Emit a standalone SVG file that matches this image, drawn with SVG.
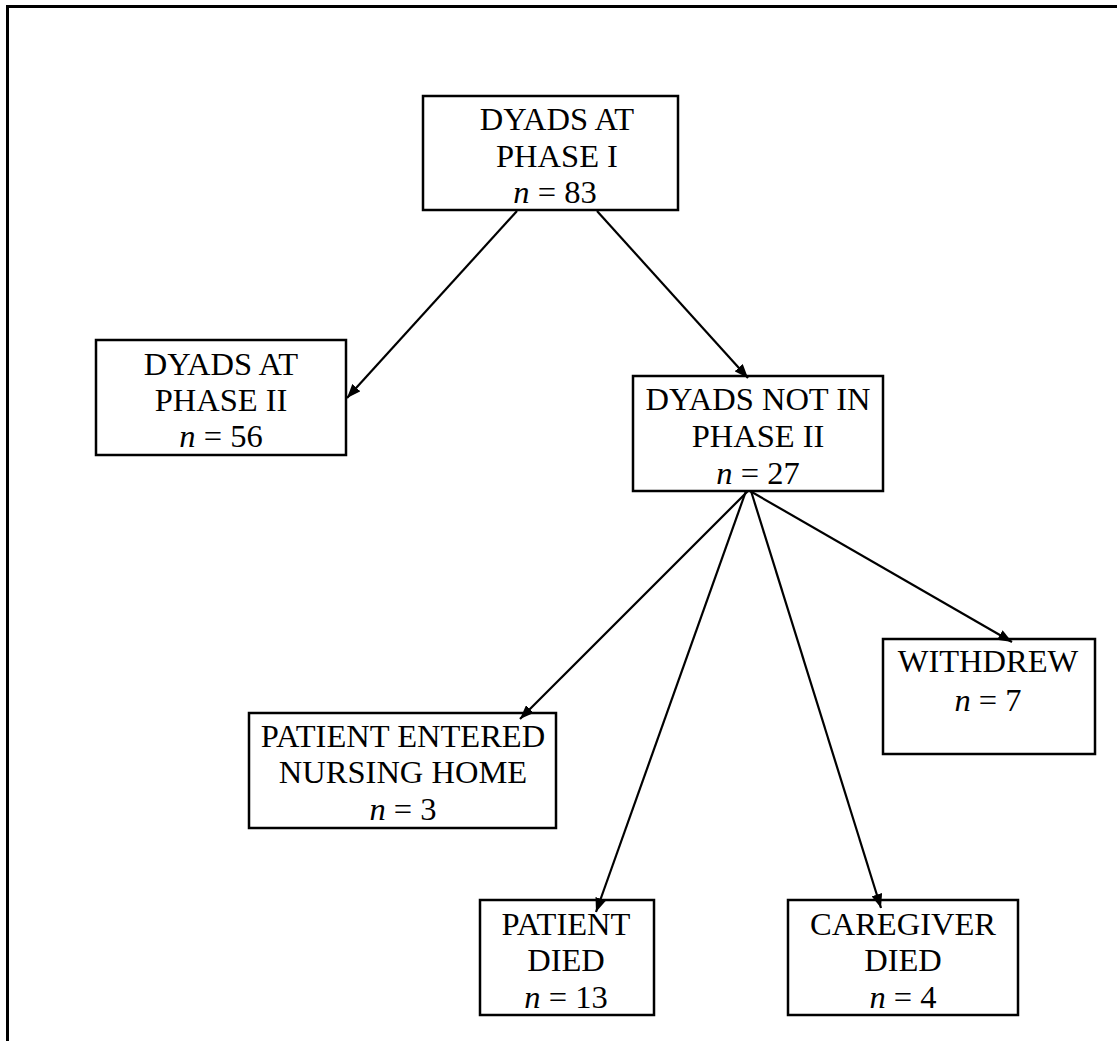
<svg xmlns="http://www.w3.org/2000/svg" width="1117" height="1041" viewBox="0 0 1117 1041">
<style>
.box{fill:#fff;stroke:#000;stroke-width:2.5}
.t{font-family:"Liberation Serif","Times New Roman",serif;font-size:32.5px;fill:#000;text-anchor:middle}
.i{font-style:italic}
.c{stroke:#000;stroke-width:2.2;fill:none;marker-end:url(#ah)}
.frame{stroke:#000;stroke-width:3;fill:none}
</style>
<defs>
<marker id="ah" markerUnits="userSpaceOnUse" markerWidth="14" markerHeight="11" refX="14" refY="5.5" orient="auto">
<path d="M0,0 L14,5.5 L0,11 z" fill="#000"/>
</marker>
</defs>
<rect width="1117" height="1041" fill="#fff"/>
<path class="frame" d="M7.5,1041 L7.5,6.5 L1117,6.5"/>
<g id="n_phase1">
<rect class="box" x="423" y="96" width="255" height="114"/>
<text class="t" x="557" y="130">DYADS AT</text>
<text class="t" x="557" y="167">PHASE I</text>
<text class="t" x="555" y="203"><tspan class="i">n</tspan> = 83</text>
</g>
<g id="n_phase2">
<rect class="box" x="96" y="340" width="250" height="115"/>
<text class="t" x="221" y="375">DYADS AT</text>
<text class="t" x="221" y="411">PHASE II</text>
<text class="t" x="221" y="447"><tspan class="i">n</tspan> = 56</text>
</g>
<g id="n_notphase2">
<rect class="box" x="633" y="376" width="250" height="115"/>
<text class="t" x="758" y="410">DYADS NOT IN</text>
<text class="t" x="758" y="447">PHASE II</text>
<text class="t" x="758" y="484"><tspan class="i">n</tspan> = 27</text>
</g>
<g id="n_nursing">
<rect class="box" x="249" y="713" width="307" height="115"/>
<text class="t" x="403" y="747">PATIENT ENTERED</text>
<text class="t" x="403" y="783">NURSING HOME</text>
<text class="t" x="403" y="820"><tspan class="i">n</tspan> = 3</text>
</g>
<g id="n_withdrew">
<rect class="box" x="883" y="639" width="212" height="115"/>
<text class="t" x="988" y="672">WITHDREW</text>
<text class="t" x="988" y="711"><tspan class="i">n</tspan> = 7</text>
</g>
<g id="n_patientdied">
<rect class="box" x="480" y="900" width="174" height="115"/>
<text class="t" x="566" y="935">PATIENT</text>
<text class="t" x="566" y="971">DIED</text>
<text class="t" x="566" y="1008"><tspan class="i">n</tspan> = 13</text>
</g>
<g id="n_caregiverdied">
<rect class="box" x="788" y="900" width="230" height="115"/>
<text class="t" x="903" y="935">CAREGIVER</text>
<text class="t" x="903" y="971">DIED</text>
<text class="t" x="903" y="1008"><tspan class="i">n</tspan> = 4</text>
</g>
<g id="connectors">
<line class="c" x1="517" y1="211" x2="347" y2="398"/>
<line class="c" x1="597" y1="211" x2="748" y2="378"/>
<line class="c" x1="748" y1="491" x2="520" y2="719"/>
<line class="c" x1="746" y1="491" x2="596" y2="912"/>
<line class="c" x1="751" y1="491" x2="881" y2="908"/>
<line class="c" x1="750" y1="491" x2="1012" y2="642"/>
</g>
</svg>
